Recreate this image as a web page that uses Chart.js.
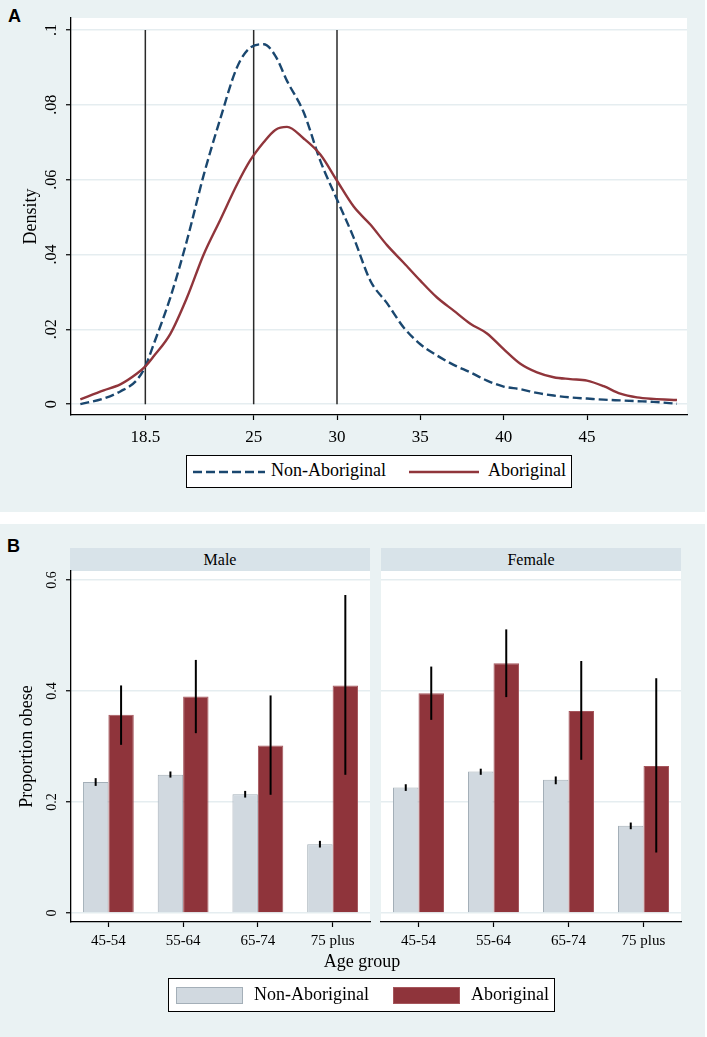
<!DOCTYPE html>
<html>
<head>
<script src="https://cdn.jsdelivr.net/npm/chart.js@4.4.1/dist/chart.umd.min.js"></script>
<style>
  body { margin: 0; width: 707px; height: 1037px; background: #fff; position: relative; font-family: "Liberation Serif", "Times New Roman", serif; }
  .panel { position: absolute; left: 0; width: 705px; background: #eaf2f3; }
  .panel canvas { position: absolute; }
  .tag { position: absolute; font-family: "Liberation Sans", Arial, sans-serif; font-weight: bold; font-size: 18px; }
  .strip { position: absolute; top: 24px; height: 23px; background: #d8e3e9; font-size: 16px; line-height: 23px; text-align: center; }
  .legend { position: absolute; background: #fff; border: 1.5px solid #000; box-sizing: border-box; }
  .legend span { position: absolute; font-size: 18px; white-space: nowrap; }
  .legend svg { position: absolute; }
  .sw { position: absolute; box-sizing: border-box; }
</style>
</head>
<body>

<div class="panel" style="top:0; height:512px;">
  <div class="tag" style="left:8px; top:6px;">A</div>
  <canvas id="density" width="705" height="512" style="left:0; top:0;"></canvas>
  <div class="legend" style="left:186px; top:455px; width:386px; height:33px;">
    <svg width="72" height="6" style="left:6px; top:13px;"><line x1="0" y1="3" x2="72" y2="3" stroke="#1a476f" stroke-width="2.4" stroke-dasharray="9,4"/></svg>
    <span style="left:84px; top:4px;">Non-Aboriginal</span>
    <svg width="70" height="6" style="left:222px; top:13px;"><line x1="0" y1="3" x2="70" y2="3" stroke="#90353b" stroke-width="2.4"/></svg>
    <span style="left:301px; top:4px;">Aboriginal</span>
  </div>
</div>

<div class="panel" style="top:524px; height:513px;">
  <div class="tag" style="left:7px; top:12px;">B</div>
  <div class="strip" style="left:70px; width:300px;">Male</div>
  <div class="strip" style="left:381px; width:300px;">Female</div>
  <canvas id="male" width="375" height="430" style="left:0; top:0;"></canvas>
  <canvas id="female" width="310" height="430" style="left:376px; top:0;"></canvas>
  <div style="position:absolute; left:262px; width:200px; top:427px; text-align:center; font-size:18px;">Age group</div>
  <div class="legend" style="left:168px; top:454px; width:387px; height:34px;">
    <div class="sw" style="left:7px; top:8px; width:67px; height:17px; background:#d1d9e0; border:1px solid #a4afb8;"></div>
    <span style="left:85px; top:5px;">Non-Aboriginal</span>
    <div class="sw" style="left:224px; top:8px; width:67px; height:17px; background:#8f343b; border:1px solid #a5565c;"></div>
    <span style="left:302px; top:5px;">Aboriginal</span>
  </div>
</div>

<script>
  // Panel A: kernel density of BMI
  const bmi = [14.6, 16, 17, 18, 18.5, 19, 20, 21, 22, 23, 24, 24.8, 25.6, 26.3, 27, 28, 29, 30, 31, 32, 33, 34, 35, 36, 37, 38, 39, 40, 41, 42, 43, 44, 45, 46, 47, 48, 49, 50.4];
  const densityNonAboriginal = [0.000, 0.0015, 0.0034, 0.0065, 0.0101, 0.016, 0.0285, 0.0438, 0.0612, 0.0763, 0.090, 0.0953, 0.0962, 0.0931, 0.0864, 0.078, 0.065, 0.0547, 0.0445, 0.033, 0.027, 0.0205, 0.016, 0.013, 0.0105, 0.0085, 0.0063, 0.0047, 0.0040, 0.0030, 0.0023, 0.0018, 0.0015, 0.0012, 0.0010, 0.0008, 0.0006, 0.0001];
  const densityAboriginal = [0.0013, 0.0037, 0.0053, 0.0082, 0.0101, 0.0128, 0.0188, 0.0285, 0.040, 0.0493, 0.0587, 0.0652, 0.0700, 0.0733, 0.0741, 0.0710, 0.0667, 0.0597, 0.0528, 0.0480, 0.0425, 0.0378, 0.0330, 0.0285, 0.0250, 0.0215, 0.0189, 0.0147, 0.0108, 0.0085, 0.0072, 0.0067, 0.0063, 0.0048, 0.0028, 0.0018, 0.0014, 0.0011];
  const refLines = [18.5, 25, 30];
  const xTicksA = [18.5, 25, 30, 35, 40, 45];
  const yTicksA = [0, 0.02, 0.04, 0.06, 0.08, 0.1];
  const yTickLabelsA = ['0', '.02', '.04', '.06', '.08', '.1'];

  // Panel B: proportion obese by age group
  const ageGroups = ['45-54', '55-64', '65-74', '75 plus'];
  const maleNon = [0.236, 0.249, 0.214, 0.124];
  const maleNonLow = [0.229, 0.244, 0.208, 0.118];
  const maleNonHigh = [0.243, 0.255, 0.220, 0.130];
  const maleAbo = [0.357, 0.390, 0.302, 0.410];
  const maleAboLow = [0.303, 0.324, 0.213, 0.249];
  const maleAboHigh = [0.410, 0.456, 0.392, 0.573];
  const femaleNon = [0.226, 0.255, 0.240, 0.157];
  const femaleNonLow = [0.220, 0.249, 0.232, 0.151];
  const femaleNonHigh = [0.232, 0.260, 0.246, 0.163];
  const femaleAbo = [0.396, 0.450, 0.364, 0.265];
  const femaleAboLow = [0.348, 0.389, 0.276, 0.109];
  const femaleAboHigh = [0.444, 0.511, 0.454, 0.423];
  const yTicksB = [0, 0.2, 0.4, 0.6];
  const yTickLabelsB = ['0', '0.2', '0.4', '0.6'];

  Chart.defaults.font.family = '"Liberation Serif", "Times New Roman", serif';
  Chart.defaults.color = '#000';

  const whiteArea = {
    id: 'whiteArea',
    beforeDraw(chart) {
      const { ctx, chartArea: a } = chart;
      ctx.save();
      ctx.fillStyle = '#fff';
      ctx.fillRect(a.left, a.top, a.right - a.left, a.bottom - a.top);
      ctx.restore();
    }
  };

  const errorBars = {
    id: 'errorBars',
    afterDatasetsDraw(chart) {
      const { ctx, scales: { y } } = chart;
      chart.data.datasets.forEach((ds, i) => {
        chart.getDatasetMeta(i).data.forEach((bar, j) => {
          ctx.save();
          ctx.strokeStyle = '#000';
          ctx.lineWidth = 2;
          ctx.beginPath();
          ctx.moveTo(bar.x, y.getPixelForValue(ds.errLow[j]));
          ctx.lineTo(bar.x, y.getPixelForValue(ds.errHigh[j]));
          ctx.stroke();
          ctx.restore();
        });
      });
    }
  };

  const gridColor = '#e5edf0';

  new Chart(document.getElementById('density'), {
    type: 'line',
    data: {
      datasets: [
        ...refLines.map(v => ({
          data: [{ x: v, y: 0 }, { x: v, y: 0.1 }],
          borderColor: '#2a2a2a', borderWidth: 1.5, pointRadius: 0, order: 3
        })),
        {
          label: 'Non-Aboriginal',
          data: bmi.map((x, i) => ({ x, y: densityNonAboriginal[i] })),
          borderColor: '#1a476f', borderWidth: 2.4, borderDash: [9, 4],
          pointRadius: 0, cubicInterpolationMode: 'monotone', order: 2
        },
        {
          label: 'Aboriginal',
          data: bmi.map((x, i) => ({ x, y: densityAboriginal[i] })),
          borderColor: '#90353b', borderWidth: 2.4,
          pointRadius: 0, cubicInterpolationMode: 'monotone', order: 1
        }
      ]
    },
    options: {
      responsive: false,
      animation: false,
      events: [],
      layout: { padding: { left: 0, top: 18, right: 18, bottom: 57 } },
      plugins: { legend: { display: false }, tooltip: { enabled: false } },
      scales: {
        x: {
          type: 'linear', min: 14.04, max: 51.0,
          afterBuildTicks: s => { s.ticks = xTicksA.map(v => ({ value: v })); },
          ticks: { font: { size: 17 }, padding: 7, maxRotation: 0, autoSkip: false, callback: v => String(v) },
          grid: { drawOnChartArea: false, tickColor: '#000', tickLength: 5, tickWidth: 1.2 },
          border: { color: '#000', width: 1.3 },
          afterFit: s => { s.height = 40; }
        },
        y: {
          type: 'linear', min: -0.0029, max: 0.1032,
          afterBuildTicks: s => { s.ticks = yTicksA.map(v => ({ value: v })); },
          ticks: { font: { size: 16 }, minRotation: 90, maxRotation: 90, crossAlign: 'center', padding: 4, autoSkip: false,
                   callback: (v, i) => yTickLabelsA[i] },
          grid: { color: gridColor, lineWidth: 1.5, tickColor: '#000', tickLength: 5, tickWidth: 1.2 },
          border: { color: '#000', width: 1.3 },
          title: { display: true, text: 'Density', font: { size: 18 }, padding: { top: 20, bottom: 0 } },
          afterFit: s => { s.width = 71; }
        }
      }
    },
    plugins: [whiteArea]
  });

  function barPanel(id, non, nonLow, nonHigh, abo, aboLow, aboHigh, showY, padLeft) {
    new Chart(document.getElementById(id), {
      type: 'bar',
      data: {
        labels: ageGroups,
        datasets: [
          { label: 'Non-Aboriginal', data: non, errLow: nonLow, errHigh: nonHigh,
            backgroundColor: '#d1d9e0', borderColor: '#a4afb8', borderWidth: 1 },
          { label: 'Aboriginal', data: abo, errLow: aboLow, errHigh: aboHigh,
            backgroundColor: '#8f343b', borderColor: '#a5565c', borderWidth: 1 }
        ]
      },
      options: {
        responsive: false,
        animation: false,
        events: [],
        categoryPercentage: 0.68,
        barPercentage: 1,
        layout: { padding: { left: padLeft, top: 47, right: 5, bottom: 2 } },
        plugins: { legend: { display: false }, tooltip: { enabled: false } },
        scales: {
          x: {
            ticks: { font: { size: 15 }, padding: 5, maxRotation: 0 },
            grid: { offset: false, drawOnChartArea: false, tickColor: '#000', tickLength: 5, tickWidth: 1.2 },
            border: { color: '#000', width: 1.3 },
            afterFit: s => { s.height = 30; }
          },
          y: {
            min: -0.0162, max: 0.6162,
            afterBuildTicks: s => { s.ticks = yTicksB.map(v => ({ value: v })); },
            ticks: { display: showY, font: { size: 14 }, minRotation: 90, maxRotation: 90, crossAlign: 'center', padding: 4.5, autoSkip: false,
                     callback: (v, i) => yTickLabelsB[i] },
            grid: { color: gridColor, lineWidth: 1.5, tickColor: '#000', tickLength: 5, tickWidth: 1.2, drawTicks: showY },
            border: { display: showY, color: '#000', width: 1.3 },
            title: { display: showY, text: 'Proportion obese', font: { size: 18 }, padding: { top: 16, bottom: 0 } },
            afterFit: s => { s.width = showY ? 71 : 0; }
          }
        }
      },
      plugins: [whiteArea, errorBars]
    });
  }

  barPanel('male', maleNon, maleNonLow, maleNonHigh, maleAbo, maleAboLow, maleAboHigh, true, 0);
  barPanel('female', femaleNon, femaleNonLow, femaleNonHigh, femaleAbo, femaleAboLow, femaleAboHigh, false, 5);
</script>
</body>
</html>
